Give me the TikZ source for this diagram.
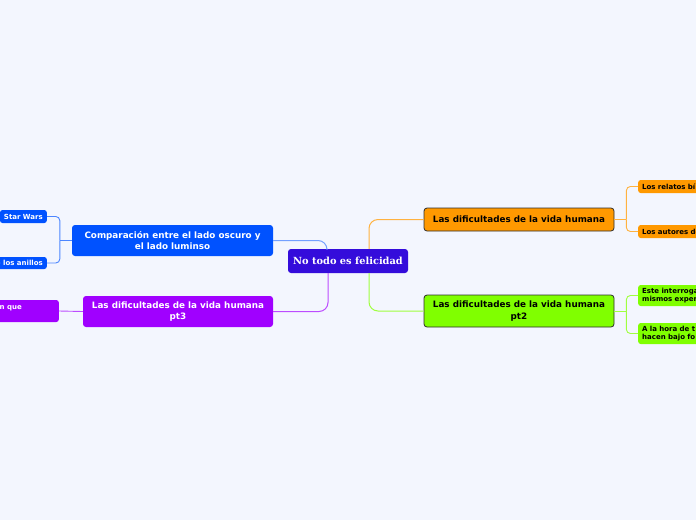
\documentclass[tikz,border=0pt]{standalone}
\usepackage{fontspec}
\setmainfont{DejaVu Sans}
\newfontfamily\serifbold{DejaVu Serif}
\definecolor{bg}{RGB}{243,246,254}
\definecolor{cen}{RGB}{52,12,219}
\definecolor{ora}{RGB}{255,153,0}
\definecolor{gre}{RGB}{128,255,0}
\definecolor{blu}{RGB}{0,82,255}
\definecolor{pur}{RGB}{160,0,255}
\definecolor{bord}{RGB}{45,45,45}
\begin{document}
\begin{tikzpicture}[x=1pt,y=-1pt,
  mainbox/.style={rounded corners=3pt, inner sep=0pt, align=center,
    font=\bfseries\fontsize{8.8}{11.5}\selectfont},
  leafbox/.style={rounded corners=2.5pt, inner xsep=4pt, inner ysep=0pt,
    font=\bfseries\fontsize{7}{8.5}\selectfont},
  conn/.style={line width=1pt, rounded corners=9pt},
  lconn/.style={line width=0.9pt, rounded corners=4pt}]
\useasboundingbox (0,0) rectangle (696,520);
\clip (0,0) rectangle (696,520);
\fill[bg] (0,0) rectangle (696,520);

% central node
\node[mainbox, fill=cen, text=white, minimum width=120pt, minimum height=24pt,
  font=\serifbold\bfseries\fontsize{9.8}{12}\selectfont] (c) at (348,261) {No todo es felicidad};

% main branches
\node[mainbox, fill=ora, draw=bord, line width=0.8pt, text=black,
  minimum width=190pt, minimum height=23pt] (o) at (519,219.5) {Las dificultades de la vida humana};
\node[mainbox, fill=gre, draw=bord, line width=0.8pt, text=black,
  minimum width=190pt, minimum height=32pt] (g) at (519,311) {Las dificultades de la vida humana\\pt2};
\node[mainbox, fill=blu, text=white,
  minimum width=201pt, minimum height=31pt] (b) at (172.5,240.5) {Comparación entre el lado oscuro y\\el lado luminso};
\node[mainbox, fill=pur, text=white,
  minimum width=190pt, minimum height=31pt] (p) at (178,311.5) {Las dificultades de la vida humana\\pt3};

% connectors from center
\draw[conn, ora!75!white] ([xshift=21pt]c.north) |- (o.west);
\draw[conn, gre!75!white] ([xshift=21pt]c.south) |- (g.west);
\draw[conn, blu!55!white] ([xshift=-21pt]c.north) |- (b.east);
\draw[conn, pur!70!white] ([xshift=-20pt]c.south) |- (p.east);

% left leaves (blue)
\node[leafbox, fill=blu, text=white, minimum height=13pt, anchor=east] (sw) at (47,216.5) {Star Wars};
\node[leafbox, fill=blu, text=white, minimum height=12pt, anchor=east] (la) at (47,263) {de los anillos};
\draw[lconn, blu!70!white] (b.west) -- ++(-12,0) coordinate (bj);
\draw[lconn, blu!70!white] (bj) |- (sw.east);
\draw[lconn, blu!70!white] (bj) |- (la.east);

% purple leaf
\node[leafbox, fill=pur, minimum width=80pt, minimum height=22pt, anchor=east] (pl) at (59,311) {};
\node[font=\bfseries\fontsize{7}{8.5}\selectfont, text=white, inner sep=0pt, anchor=base east] (plt) at (22,309.5) {n que};
\draw[line width=0.9pt, pur!70!white] (p.west) -- (pl.east);

% right leaves (orange)
\node[leafbox, fill=ora, text=black, minimum height=13pt, text width=90pt, align=left, anchor=west] (o1) at (638,186.5) {Los relatos bí};
\node[leafbox, fill=ora, text=black, minimum height=13pt, text width=90pt, align=left, anchor=west] (o2) at (638,231.5) {Los autores de};
\draw[lconn, ora!75!white] (o.east) -- ++(12,0) coordinate (oj);
\draw[lconn, ora!75!white] (oj) |- (o1.west);
\draw[lconn, ora!75!white] (oj) |- (o2.west);

% right leaves (green)
\node[leafbox, fill=gre, text=black, minimum height=21pt, text width=90pt, align=left, anchor=west] (g1) at (638,295.5) {Este interroga\\mismos exper};
\node[leafbox, fill=gre, text=black, minimum height=21pt, text width=90pt, align=left, anchor=west] (g2) at (638,333.5) {A la hora de t\\hacen bajo fo};
\draw[lconn, gre!75!white] (g.east) -- ++(12,0) coordinate (gj);
\draw[lconn, gre!75!white] (gj) |- (g1.west);
\draw[lconn, gre!75!white] (gj) |- (g2.west);
\end{tikzpicture}
\end{document}
